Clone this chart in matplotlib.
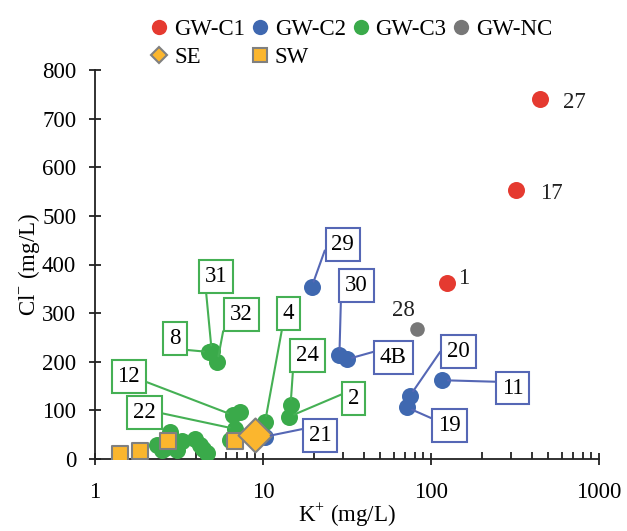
import matplotlib
matplotlib.use("Agg")
import matplotlib.pyplot as plt
from matplotlib.lines import Line2D

plt.rcParams['font.family'] = ['Liberation Serif', 'DejaVu Serif']
plt.rcParams['mathtext.fontset'] = 'custom'
plt.rcParams['mathtext.rm'] = 'Liberation Serif'

# ---------------- data ----------------
c1_k = [445, 321, 124]
c1_cl = [740, 553, 361]
c1_lab = ['27', '17', '1']

c2_k = [19.5, 28.5, 31.5, 75, 72, 117, 10.3]
c2_cl = [354, 214, 205, 130, 106, 162, 46]
c2_lab = ['29', '30', '4B', '20', '19', '11', '21']

c3_k = [4.95, 4.8, 5.35, 6.65, 7.3, 10.3, 14.6, 14.3, 6.8, 6.36,
        2.8, 2.33, 2.49, 3.06, 3.28, 2.99, 3.94, 4.21, 4.62, 4.4, 2.6]
c3_cl = [222, 220, 200, 90, 97, 77, 112, 87, 62, 39,
         55, 29, 18, 18, 36, 36, 42, 29, 12, 20, 22]
c3_lab = ['31', '8', '32', '12', '', '4', '24', '2', '22', '',
          '', '', '', '', '', '', '', '', '', '', '']

nc_k = [82]
nc_cl = [267]
nc_lab = ['28']

sw_k = [1.4, 1.85, 2.73, 6.8]
sw_cl = [10, 17, 36, 36]

se_k = [8.95]
se_cl = [49]

# ---------------- styles ----------------
RED = '#E53A30'
BLUE = '#3F68B0'
GREEN = '#3AAA4A'
GRAY = '#777777'
ORANGE = '#FBB62E'
EDGE = '#808080'
BOX_G = '#45B054'
BOX_B = '#5567B5'
FS = 16.5

fig = plt.figure(figsize=(6.27, 5.31), dpi=100)
ax = fig.add_axes([95/627, 1-459/531, (599-95)/627, (459-70)/531])
ax.set_xscale('log')
ax.set_xlim(1, 1000)
ax.set_ylim(0, 800)

ms = 150
ax.scatter(c3_k, c3_cl, s=ms, color=GREEN, zorder=3, linewidths=0)
ax.scatter(c2_k, c2_cl, s=ms, color=BLUE, zorder=3, linewidths=0)
ax.scatter(c1_k, c1_cl, s=ms, color=RED, zorder=3, linewidths=0)
ax.scatter(nc_k, nc_cl, s=110, color=GRAY, zorder=3, linewidths=0)
ax.scatter(sw_k, sw_cl, s=120, marker='s', color=ORANGE, edgecolors=EDGE,
           linewidths=1.5, zorder=4)
ax.scatter(se_k, se_cl, s=300, marker='D', color=ORANGE, edgecolors=EDGE,
           linewidths=1.5, zorder=5)

# label box layout: label -> (box x, box y, relpos)
box_layout = {
    '31': (5.26, 376, (0.05, -0.19)),
    '32': (7.42, 298, (-0.10, 0.80)),
    '8': (3.0, 247, (1.0, 0.0)),
    '12': (1.59, 169, (1.02, 0.36)),
    '22': (1.97, 95.6, (0.98, 0.53)),
    '4': (14.2, 300, (0.04, 0.07)),
    '24': (18.4, 213, (-0.07, 0.80)),
    '2': (34.7, 124, (-0.03, 0.83)),
    '29': (29.9, 442, (-0.09, 0.81)),
    '30': (35.9, 356, (-0.15, 0.82)),
    '4B': (59.7, 208, (-0.12, 0.83)),
    '20': (145.4, 220.5, (-0.10, 0.81)),
    '11': (305.6, 146, (0.0, 0.79)),
    '19': (128.3, 68, (-0.14, 0.80)),
    '21': (21.9, 48, (-0.08, 0.86)),
}
text_layout = {
    '27': (710, 734),
    '17': (518, 547),
    '1': (155.7, 371),
    '28': (68.4, 305),
}

def put_labels(ks, cls, labs, color):
    for k, c, lab in zip(ks, cls, labs):
        if not lab:
            continue
        if lab in box_layout:
            bx, by, rp = box_layout[lab]
            ax.annotate(lab, xy=(k, c), xytext=(bx, by), textcoords='data',
                        ha='center', va='center', fontsize=FS, zorder=6,
                        bbox=dict(boxstyle='square,pad=0.26', fc='white',
                                  ec=color, lw=1.5),
                        arrowprops=dict(arrowstyle='-', color=color, lw=1.5,
                                        relpos=rp, shrinkA=0, shrinkB=4))
        elif lab in text_layout:
            tx, ty = text_layout[lab]
            ax.text(tx, ty, lab, ha='center', va='center', fontsize=FS,
                    color='#222222', zorder=6)

put_labels(c1_k, c1_cl, c1_lab, BOX_B)
put_labels(c2_k, c2_cl, c2_lab, BOX_B)
put_labels(c3_k, c3_cl, c3_lab, BOX_G)
put_labels(nc_k, nc_cl, nc_lab, BOX_B)

# axes styling
for s in ['top', 'right']:
    ax.spines[s].set_visible(False)
for s in ['left', 'bottom']:
    ax.spines[s].set_linewidth(1.3)
    ax.spines[s].set_color('#222222')

ax.set_yticks(range(0, 801, 100))
ax.set_xticks([1, 10, 100, 1000])
ax.set_xticklabels(['1', '10', '100', '1000'])
ax.tick_params(axis='both', which='major', direction='inout', length=9,
               width=1.3, labelsize=FS, color='#222222')
ax.tick_params(axis='y', which='major', pad=9)
ax.tick_params(axis='x', which='major', pad=12)
ax.tick_params(axis='x', which='minor', direction='in', length=5, width=1.3,
               color='#222222')
ax.minorticks_on()
ax.tick_params(axis='y', which='minor', left=False)

ax.set_xlabel(r'K$^{+}$ (mg/L)', fontsize=FS, labelpad=-1)
ax.set_ylabel(r'Cl$^{-}$ (mg/L)', fontsize=FS, labelpad=0)

# legend
h_c1 = Line2D([], [], ls='none', marker='o', ms=11, color=RED, mew=0)
h_c2 = Line2D([], [], ls='none', marker='o', ms=11, color=BLUE, mew=0)
h_c3 = Line2D([], [], ls='none', marker='o', ms=11, color=GREEN, mew=0)
h_nc = Line2D([], [], ls='none', marker='o', ms=11, color=GRAY, mew=0)
h_se = Line2D([], [], ls='none', marker='D', ms=8, mfc=ORANGE, mec=EDGE, mew=1.5)
h_sw = Line2D([], [], ls='none', marker='s', ms=10, mfc=ORANGE, mec=EDGE, mew=1.5)
fig.legend([h_c1, h_se, h_c2, h_sw, h_c3, h_nc],
           ['GW-C1', 'SE', 'GW-C2', 'SW', 'GW-C3', 'GW-NC'],
           ncol=4, loc='upper left', bbox_to_anchor=(142/627, 1-10/531),
           frameon=False, fontsize=FS, handlelength=0.7, handletextpad=0.3,
           columnspacing=0.3, labelspacing=0.3, borderaxespad=0)

fig.savefig('out.png', dpi=100)
